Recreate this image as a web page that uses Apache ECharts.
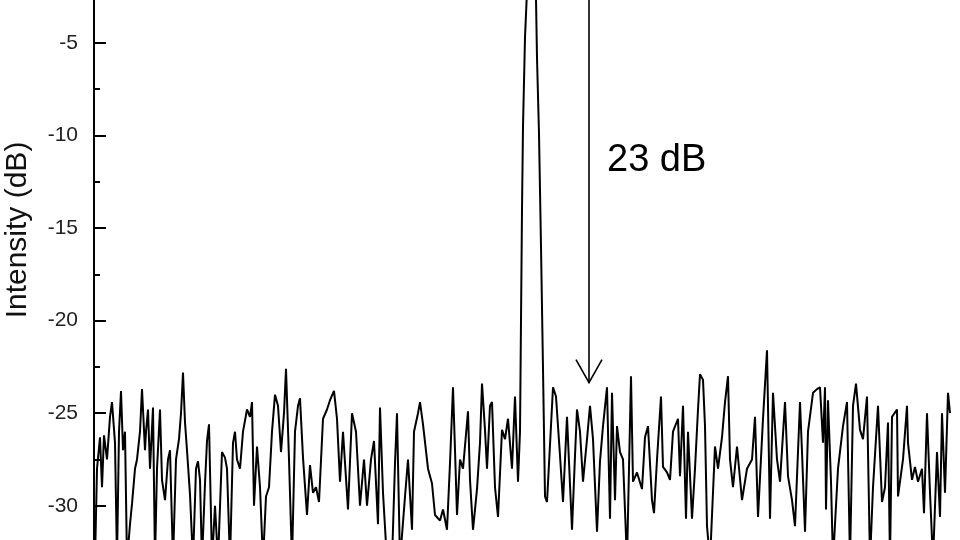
<!DOCTYPE html>
<html><head><meta charset="utf-8">
<script src="https://cdn.jsdelivr.net/npm/echarts@6/dist/echarts.min.js"></script>
<style>html,body{margin:0;padding:0;background:#fff}#c{width:960px;height:540px}</style>
</head><body><div id="c"></div>
<script>
// sample index (arbitrary units along the spectrum)
const xs = [1,3,6,8,10,13,16,18,21,23,25,27,29,31,33,36,38,41,43,46,48,51,52,54,56,59,61,63,66,68,71,74,76,79,82,85,87,89,91,93,96,99,102,104,106,108,111,113,115,118,121,124,128,131,133,136,139,141,143,146,149,153,156,158,160,163,166,169,172,175,178,181,184,187,190,192,195,198,201,204,206,209,213,216,219,222,225,229,233,236,240,243,246,249,254,258,262,266,270,273,277,280,284,286,289,293,298,301,303,306,311,314,318,320,324,326,329,334,338,341,346,349,353,356,359,361,363,366,369,374,376,379,383,386,388,391,393,396,398,401,404,408,411,414,418,421,424,426,427,428,429,431,433,437,439,442,443,445,447,449,451,453,459,462,466,469,473,478,481,483,486,489,493,496,499,503,506,509,513,516,518,521,523,526,529,533,537,539,543,548,551,554,558,560,563,567,569,573,576,579,584,586,589,592,594,598,601,604,606,609,611,613,616,621,624,628,631,634,636,639,643,648,653,658,661,664,669,673,676,679,683,686,691,694,698,701,706,708,711,714,719,723,726,729,731,732,734,737,739,744,749,753,756,759,762,766,769,773,776,779,784,788,791,794,796,798,803,804,809,813,814,818,821,824,828,830,833,836,839,843,846,848,851,854,856];
// intensity in dB
const intensity = [-33,-28.0,-26.3,-29.0,-26.2,-27.5,-25.2,-24.4,-26.6,-33,-26.0,-23.8,-27.0,-26.0,-33,-31.0,-29.9,-28.0,-27.5,-26.0,-23.7,-27.0,-26.0,-24.8,-28.0,-24.7,-33,-28.0,-24.8,-28.6,-29.7,-27.5,-27.0,-33,-27.5,-26.4,-25.0,-22.8,-25.5,-27.0,-29.4,-33,-28.0,-27.6,-28.6,-33,-28.8,-26.5,-25.6,-33,-30.0,-33,-27.1,-27.4,-28.0,-33,-26.6,-26.0,-27.5,-28.0,-26.0,-24.8,-25.2,-24.4,-30.0,-26.8,-29.0,-33,-29.5,-29.0,-26.0,-24.0,-24.6,-27.1,-25.0,-22.6,-27.5,-33,-26.0,-24.6,-24.2,-27.4,-30.5,-27.8,-29.3,-29.0,-29.8,-25.3,-24.8,-24.3,-23.8,-25.3,-28.7,-26.0,-30.2,-25.0,-26.0,-30.0,-27.5,-30.0,-27.5,-26.5,-31.0,-24.7,-29.3,-33,-33,-27.7,-25.0,-33,-29.5,-27.5,-31.3,-26.0,-25.0,-24.4,-25.6,-28.0,-28.8,-30.5,-30.8,-30.2,-31.3,-27.7,-23.6,-27.0,-30.5,-27.5,-28.0,-24.9,-28.6,-31.3,-29.1,-26.6,-23.4,-25.9,-28.0,-24.6,-24.4,-29.0,-30.6,-25.9,-26.4,-25.3,-28.0,-24.1,-28.7,-26.0,-20.0,-14.0,-9.5,-4.7,-2.2,0,-1.0,-2.6,-5.8,-9.9,-16.0,-22.6,-29.5,-29.8,-23.6,-24.1,-27.3,-29.8,-25.2,-31.3,-27.3,-24.8,-26.0,-28.7,-26.4,-24.6,-26.4,-31.4,-27.6,-25.7,-23.6,-30.7,-23.9,-29.7,-25.7,-27.1,-27.5,-33,-23.0,-28.7,-28.2,-29.1,-26.3,-25.7,-29.7,-30.4,-27.5,-24.1,-27.9,-28.2,-28.6,-26.0,-25.3,-28.4,-24.6,-30.7,-26.0,-30.7,-28.0,-24.8,-22.9,-23.2,-25.7,-31.1,-33,-26.8,-28.0,-26.3,-24.4,-23.0,-27.5,-29.0,-26.8,-29.7,-28.0,-27.5,-25.2,-30.6,-25.3,-21.6,-30.7,-23.9,-27.5,-28.7,-24.4,-28.4,-29.7,-31.1,-24.4,-27.1,-31.4,-26.0,-23.9,-23.7,-23.6,-26.6,-23.6,-30.2,-24.3,-28.7,-33,-28.0,-25.7,-24.4,-33,-24.6,-23.4,-25.9,-26.4,-24.1,-33,-29.0,-24.6,-29.8,-29.0,-25.5,-33,-25.2,-24.8,-29.5,-27.5,-24.6,-26.6,-28.6,-27.9,-28.7,-28.0,-30.4,-25.0,-29.3,-33,-27.1,-30.6,-25.0,-29.3,-23.9,-25.0];
const yTickMin = -35, yTickMax = 0, yTickStep = 5;
const yLabel = 'Intensity (dB)';
const annotText = '23 dB';
const arrowX = 495;       // sample position of the arrow
const arrowTop = 0;       // dB (peak level)
const arrowTip = -23.35;  // dB (noise level)

const chart = echarts.init(document.getElementById('c'), null, {renderer:'canvas'});
const FONT = 'Liberation Sans, Arial, sans-serif';
const axisCommon = {
  type:'value', min:yTickMin, max:yTickMax, interval:yTickStep,
  splitLine:{show:false}
};
chart.setOption({
  animation:false,
  backgroundColor:'#fff',
  grid:{left:94, right:10, top:-49.6, bottom:-58.3, containLabel:false, outerBoundsMode:'none'},
  xAxis:[{type:'value', min:0, max:856, position:'bottom',
    axisLine:{show:true, lineStyle:{color:'#000', width:2}},
    axisTick:{show:false}, axisLabel:{show:false}, splitLine:{show:false}},
    {type:'value', min:0, max:856, position:'top',
    axisLine:{show:true, lineStyle:{color:'#000', width:2}},
    axisTick:{show:false}, axisLabel:{show:false}, splitLine:{show:false}}],
  yAxis:[Object.assign({}, axisCommon, {position:'left',
      axisLine:{show:true, lineStyle:{color:'#000', width:2}},
      axisTick:{show:true, inside:true, length:12, lineStyle:{color:'#000', width:2}},
      minorTick:{show:true, splitNumber:2, length:6, lineStyle:{color:'#000', width:2}},
      axisLabel:{fontSize:21, color:'#222', margin:16, fontFamily:FONT}}),
    Object.assign({}, axisCommon, {position:'right',
      axisLine:{show:true, lineStyle:{color:'#000', width:2}},
      axisTick:{show:false}, axisLabel:{show:false}})],
  series:[{type:'line', xAxisIndex:0, yAxisIndex:0, showSymbol:false, symbol:'none',
    lineStyle:{color:'#000', width:2}, data: xs.map((x,i)=>[x, intensity[i]])}]
});

const pTop = chart.convertToPixel({gridIndex:0}, [arrowX, arrowTop]);
const pTip = chart.convertToPixel({gridIndex:0}, [arrowX, arrowTip]);
chart.setOption({graphic:[
  {type:'text', x:18, y:230, rotation:Math.PI/2,
   style:{text:yLabel, fontSize:30, fontFamily:FONT, fill:'#111', align:'center', verticalAlign:'middle'}},
  {type:'text', x:607, y:161,
   style:{text:annotText, fontSize:38, fontFamily:FONT, fill:'#000', align:'left', verticalAlign:'middle'}},
  {type:'line', shape:{x1:pTop[0], y1:pTop[1], x2:pTip[0], y2:pTip[1]}, style:{stroke:'#000', lineWidth:1.6}},
  {type:'polyline', shape:{points:[[pTip[0]-13, pTip[1]-23],[pTip[0], pTip[1]],[pTip[0]+13, pTip[1]-23]]},
   style:{stroke:'#000', lineWidth:1.6, fill:null}}
]});
</script></body></html>
